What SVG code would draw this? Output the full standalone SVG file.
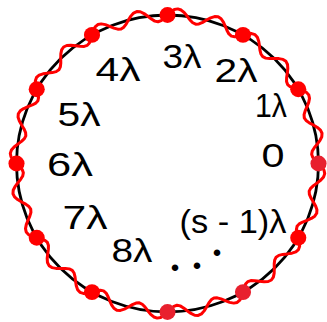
<svg xmlns="http://www.w3.org/2000/svg" xmlns:xlink="http://www.w3.org/1999/xlink" width="327" height="322" viewBox="0 0 327 322">
<style>
.ring{fill:none;stroke:#000;stroke-width:2.8}
.wave{fill:none;stroke:#ff0000;stroke-width:3;stroke-linejoin:round;stroke-linecap:round}
.dot{fill:#ff0000}
.dot2{fill:#e8202e}
.lbl{font-family:"Liberation Sans","DejaVu Sans",sans-serif;font-size:34px;fill:#000;text-anchor:middle}
.ell{font-family:"Liberation Serif","DejaVu Serif",serif;font-size:40px;font-weight:bold;fill:#000}
</style>
<defs>
<path id="seg" class="wave" d="M0,-150 L3.34,-153.21 L6.79,-155.48 L10.24,-156.16 L13.56,-155.03 L16.68,-152.34 L19.58,-148.72 L22.32,-145.04 L25.07,-142.17 L28,-140.74 L31.25,-140.95 L34.88,-142.54 L38.82,-144.89 L42.88,-147.12 L46.8,-148.43 L50.3,-148.19 L53.23,-146.24 L55.54,-142.83 L57.4,-138.58 L59.1,-134.32 L61.01,-130.84 L63.47,-128.7 L66.66,-128.06 L70.58,-128.66 L75,-129.9"/>
</defs>
<g id="ring" transform="translate(167.5,163.5) scale(1.0067,0.99)">
<circle class="ring" cx="0" cy="0" r="150"/>
<g id="wave">
<use xlink:href="#seg"/>
<use xlink:href="#seg" transform="rotate(30)"/>
<use xlink:href="#seg" transform="rotate(60)"/>
<use xlink:href="#seg" transform="rotate(90)"/>
<use xlink:href="#seg" transform="rotate(120)"/>
<use xlink:href="#seg" transform="rotate(150)"/>
<use xlink:href="#seg" transform="rotate(180)"/>
<use xlink:href="#seg" transform="rotate(210)"/>
<use xlink:href="#seg" transform="rotate(240)"/>
<use xlink:href="#seg" transform="rotate(270)"/>
<use xlink:href="#seg" transform="rotate(300)"/>
<use xlink:href="#seg" transform="rotate(330)"/>
</g>
<g id="dots">
<circle class="dot" cx="0" cy="-150" r="8"/>
<circle class="dot" cx="75" cy="-129.9" r="8"/>
<circle class="dot" cx="129.9" cy="-75" r="8"/>
<circle class="dot2" cx="150" cy="0" r="8"/>
<circle class="dot" cx="129.9" cy="75" r="8"/>
<circle class="dot2" cx="75" cy="129.9" r="8"/>
<circle class="dot2" cx="0" cy="150" r="8"/>
<circle class="dot" cx="-75" cy="129.9" r="8"/>
<circle class="dot" cx="-129.9" cy="75" r="8"/>
<circle class="dot" cx="-150" cy="0" r="8"/>
<circle class="dot" cx="-129.9" cy="-75" r="8"/>
<circle class="dot" cx="-75" cy="-129.9" r="8"/>
</g>
</g>
<g id="labels">
<text class="lbl" x="182" y="68" textLength="39" lengthAdjust="spacingAndGlyphs">3λ</text>
<text class="lbl" x="236" y="82" textLength="43" lengthAdjust="spacingAndGlyphs">2λ</text>
<text class="lbl" x="118" y="81" textLength="45" lengthAdjust="spacingAndGlyphs">4λ</text>
<text class="lbl" x="271" y="117" textLength="32" lengthAdjust="spacingAndGlyphs">1λ</text>
<text class="lbl" x="79" y="126" textLength="43" lengthAdjust="spacingAndGlyphs">5λ</text>
<text class="lbl" x="273" y="167" textLength="23" lengthAdjust="spacingAndGlyphs">0</text>
<text class="lbl" x="70" y="176" textLength="46" lengthAdjust="spacingAndGlyphs">6λ</text>
<text class="lbl" x="85" y="229" textLength="45" lengthAdjust="spacingAndGlyphs">7λ</text>
<text class="lbl" x="233" y="233" textLength="107" lengthAdjust="spacingAndGlyphs">(s - 1)λ</text>
<text class="lbl" x="132" y="262" textLength="41" lengthAdjust="spacingAndGlyphs">8λ</text>
<text class="ell" x="170 192 212" y="271 269 256">...</text>
</g>
</svg>
